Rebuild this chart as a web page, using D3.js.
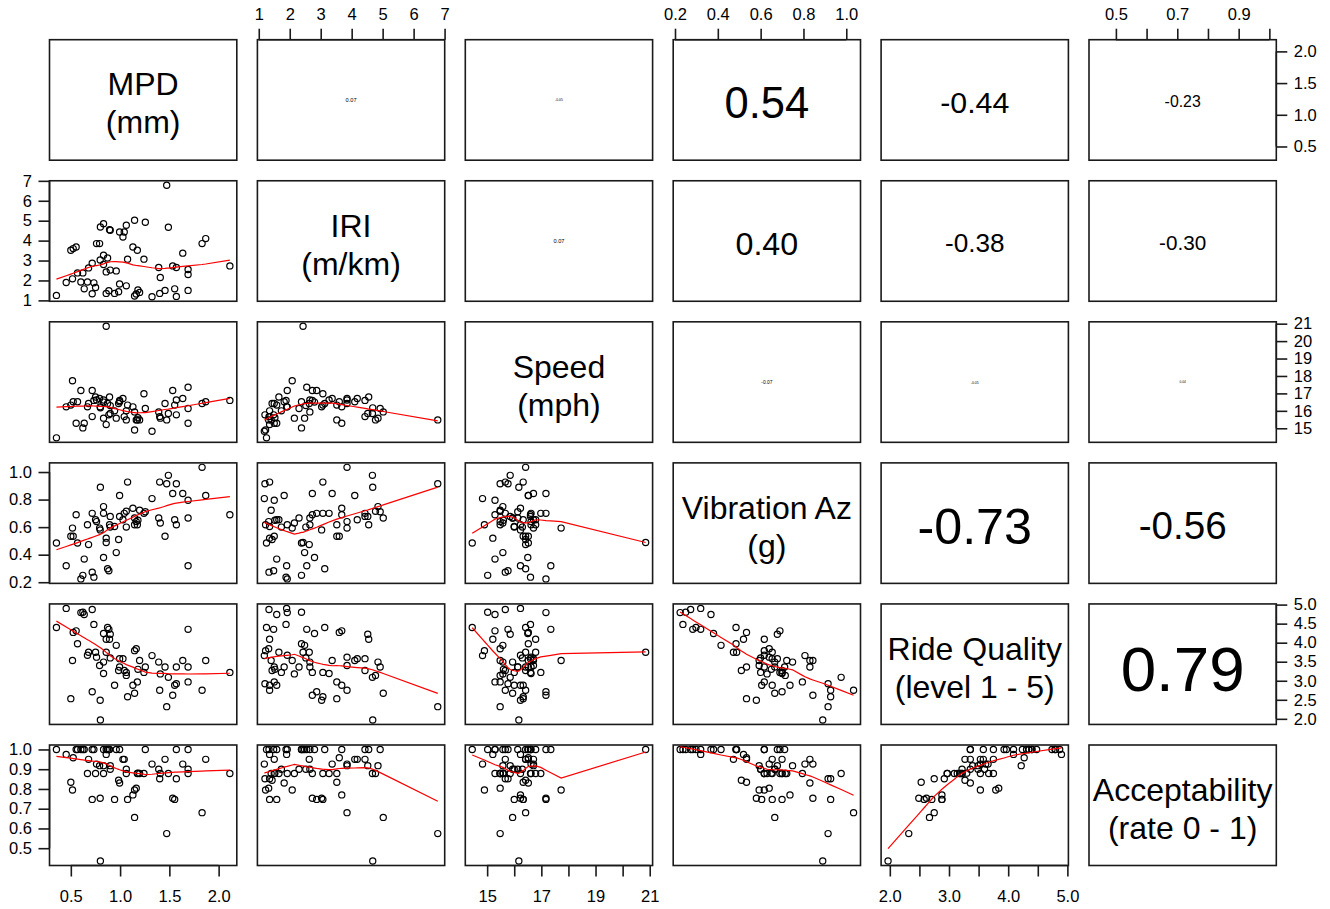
<!DOCTYPE html>
<html><head><meta charset="utf-8">
<script src="https://cdn.jsdelivr.net/npm/d3@7"></script>
<style>
body{margin:0;background:#fff}
svg{display:block}
text{font-family:"Liberation Sans",Arial,Helvetica,sans-serif;fill:#000}
</style>
</head><body>
<svg id="chart" width="1330" height="909"></svg>
<script>
// ---------------- data ----------------
const mpd   = [0.354,0.453,0.500,0.517,0.524,0.554,0.568,0.602,0.622,0.636,0.669,0.680,0.717,0.717,0.734,0.751,0.761,0.792,0.798,0.800,0.832,0.832,0.832,0.859,0.859,0.873,0.886,0.893,0.900,0.900,0.944,0.961,0.985,0.995,0.995,1.029,1.042,1.063,1.063,1.076,1.130,1.147,1.147,1.164,1.175,1.181,1.198,1.242,1.256,1.324,1.392,1.402,1.408,1.456,1.473,1.490,1.534,1.554,1.571,1.571,1.636,1.690,1.690,1.690,1.832,1.869,2.114];
const iri   = [1.25,1.90,3.52,2.08,3.60,3.68,2.38,1.92,2.38,1.58,1.92,2.63,2.87,1.33,1.88,1.65,3.85,3.85,3.03,4.68,4.85,3.27,2.80,2.43,1.35,3.13,1.48,4.55,4.52,2.52,1.35,2.48,1.43,1.82,4.43,4.18,4.43,4.77,1.73,3.07,3.68,5.02,1.22,1.32,3.52,1.52,1.40,3.07,4.92,1.18,2.65,1.35,2.15,1.50,6.78,4.67,2.73,1.58,2.65,1.20,3.37,2.55,2.30,1.50,3.85,4.10,2.73];
const speed = [14.45,16.23,16.33,17.73,16.52,15.29,16.52,17.17,15.02,15.29,16.23,16.42,17.17,15.67,16.60,16.79,16.62,16.71,16.23,16.17,15.58,16.62,16.50,20.85,15.21,16.42,15.77,16.79,15.85,16.30,16.00,15.58,16.42,16.52,16.60,16.71,15.67,15.48,16.00,16.33,16.23,15.94,14.90,15.48,15.48,15.60,15.48,16.98,16.13,14.83,15.94,15.67,15.58,16.42,15.48,15.85,17.17,16.33,16.62,15.77,16.71,17.35,16.13,15.29,16.42,16.52,16.60];
const vib   = [0.485,0.320,0.534,0.593,0.534,0.690,0.485,0.224,0.250,0.368,0.617,0.473,0.700,0.273,0.237,0.654,0.640,0.593,0.580,0.890,0.749,0.700,0.380,0.488,0.520,0.298,0.283,0.617,0.678,0.600,0.605,0.415,0.510,0.830,0.678,0.654,0.700,0.715,0.600,0.927,0.737,0.666,0.617,0.640,0.617,0.650,0.722,0.700,0.712,0.807,0.666,0.927,0.630,0.534,0.915,0.976,0.844,0.654,0.617,0.915,0.844,0.320,0.666,0.795,1.034,0.830,0.690];
const rq    = [4.40,4.90,2.53,3.53,4.27,4.31,3.97,4.79,4.80,4.74,3.67,3.75,2.71,4.87,4.48,3.75,3.62,3.40,2.49,1.97,3.49,3.19,4.24,3.75,4.09,4.40,4.35,4.09,4.22,3.60,2.88,3.93,3.27,3.36,3.58,3.58,3.27,3.14,3.22,2.58,2.88,2.67,3.79,3.84,2.97,3.30,3.53,3.22,3.36,3.66,3.49,2.75,3.18,3.36,2.32,3.09,2.62,2.88,3.36,2.92,3.53,4.35,3.36,2.97,2.75,3.53,3.22];
const acc   = [1.000,0.975,0.834,0.795,0.958,1.000,1.000,1.000,1.000,1.000,0.878,0.950,0.747,1.000,1.000,0.878,0.926,0.918,0.753,0.435,0.918,0.878,1.000,1.000,0.975,1.000,1.000,1.000,0.918,0.900,0.747,1.000,0.844,0.830,1.000,0.950,0.950,0.878,0.900,0.747,0.770,0.656,0.795,0.804,0.878,0.880,0.878,0.878,1.000,0.926,0.900,0.852,0.878,0.950,0.574,0.878,0.753,0.747,1.000,0.852,0.926,1.000,0.900,0.878,0.680,0.950,0.878];

const varNames = [["MPD","(mm)"],["IRI","(m/km)"],["Speed","(mph)"],["Vibration Az","(g)"],["Ride Quality","(level 1 - 5)"],["Acceptability","(rate 0 - 1)"]];

// correlation labels shown in the upper panels (row i, col j>i)
const corText = [
  [null,"0.07","-0.05","0.54","-0.44","-0.23"],
  [null,null,"0.07","0.40","-0.38","-0.30"],
  [null,null,null,"-0.07","-0.05","0.04"],
  [null,null,null,null,"-0.73","-0.56"],
  [null,null,null,null,null,"0.79"]
];

const mpdTicks = [0.5,1.0,1.5,2.0];
const mpdXLabels = ["0.5","1.0","1.5","2.0"];
const mpdYLabels = ["0.5","1.0","1.5","2.0"];
const iriTicks = [1,2,3,4,5,6,7];
const iriXLabels = ["1","2","3","4","5","6","7"];
const iriYLabels = ["1","2","3","4","5","6","7"];
const speedTicks = [15,16,17,18,19,20,21];
const speedXLabels = ["15","","17","","19","","21"];
const speedYLabels = ["15","16","17","18","19","20","21"];
const vibTicks = [0.2,0.4,0.6,0.8,1.0];
const vibXLabels = ["0.2","0.4","0.6","0.8","1.0"];
const vibYLabels = ["0.2","0.4","0.6","0.8","1.0"];
const rqTicks = [2.0,2.5,3.0,3.5,4.0,4.5,5.0];
const rqXLabels = ["2.0","","3.0","","4.0","","5.0"];
const rqYLabels = ["2.0","2.5","3.0","3.5","4.0","4.5","5.0"];
const accTicks = [0.5,0.6,0.7,0.8,0.9,1.0];
const accXLabels = ["0.5","","0.7","","0.9",""];
const accYLabels = ["0.5","0.6","0.7","0.8","0.9","1.0"];

// ---------------- assemble ----------------
const vars = [mpd, iri, speed, vib, rq, acc];
const ticks = [mpdTicks, iriTicks, speedTicks, vibTicks, rqTicks, accTicks];
const xLabels = [mpdXLabels, iriXLabels, speedXLabels, vibXLabels, rqXLabels, accXLabels];
const yLabels = [mpdYLabels, iriYLabels, speedYLabels, vibYLabels, rqYLabels, accYLabels];
const N = vars.length;

// layout
const left0 = 49.5, colStep = 207.9, pw = 187.3;
const top0 = 39.7, rowStep = 141.06, ph = 120.5;
const tickFs = 16.5, tickLen = 11;

function pad(v){ const e = d3.extent(v); const d = (e[1]-e[0])*0.04; return [e[0]-d, e[1]+d]; }
const xScales = vars.map((v,j)=> d3.scaleLinear().domain(pad(v)).range([left0+j*colStep, left0+j*colStep+pw]));
const yScales = vars.map((v,i)=> d3.scaleLinear().domain(pad(v)).range([top0+i*rowStep+ph, top0+i*rowStep]));

// R-style lowess (clowess port)
function lowess(xIn, yIn, f=2/3, iterations=3){
  const idx = d3.range(xIn.length).sort((a,b)=>xIn[a]-xIn[b]);
  const x = idx.map(i=>xIn[i]), y = idx.map(i=>yIn[i]);
  const n = x.length;
  const ys = new Array(n).fill(0), rw = new Array(n).fill(1), res = new Array(n).fill(0), w = new Array(n).fill(0);
  const range = x[n-1]-x[0];
  const delta = 0.01*range;
  const ns = Math.max(2, Math.min(n, Math.floor(f*n + 1e-7)));
  function lowest(xs, nleft, nright, userw){
    const h = Math.max(xs-x[nleft], x[nright]-xs);
    const h9 = 0.999*h, h1 = 0.001*h;
    let a = 0, j = nleft;
    while (j < n){
      w[j] = 0;
      const r = Math.abs(x[j]-xs);
      if (r <= h9){
        if (r <= h1) w[j] = 1; else w[j] = Math.pow(1-Math.pow(r/h,3),3);
        if (userw) w[j] *= rw[j];
        a += w[j];
      } else if (x[j] > xs) break;
      j++;
    }
    const nrt = j-1;
    if (a <= 0) return null;
    for (j=nleft;j<=nrt;j++) w[j] /= a;
    if (h > 0){
      a = 0;
      for (j=nleft;j<=nrt;j++) a += w[j]*x[j];
      let b = xs - a, c = 0;
      for (j=nleft;j<=nrt;j++) c += w[j]*(x[j]-a)*(x[j]-a);
      if (Math.sqrt(c) > 0.001*range){
        b /= c;
        for (j=nleft;j<=nrt;j++) w[j] *= (b*(x[j]-a)+1);
      }
    }
    let s = 0;
    for (j=nleft;j<=nrt;j++) s += w[j]*y[j];
    return s;
  }
  let it = 1;
  while (it <= iterations+1){
    let nleft = 0, nright = ns-1, last = -1, i = 0;
    for(;;){
      if (nright < n-1){
        const d1 = x[i]-x[nleft], d2 = x[nright+1]-x[i];
        if (d1 > d2){ nleft++; nright++; continue; }
      }
      const v = lowest(x[i], nleft, nright, it>1);
      ys[i] = (v === null) ? y[i] : v;
      if (last < i-1){
        const denom = x[i]-x[last];
        for (let j=last+1;j<i;j++){
          const alpha = (x[j]-x[last])/denom;
          ys[j] = alpha*ys[i] + (1-alpha)*ys[last];
        }
      }
      last = i;
      const cut = x[last]+delta;
      for (i=last+1;i<n;i++){
        if (x[i] > cut) break;
        if (x[i] === x[last]){ ys[i] = ys[last]; last = i; }
      }
      i = Math.max(last+1, i-1);
      if (last >= n-1) break;
    }
    let sc = 0;
    for (let i=0;i<n;i++){ res[i] = y[i]-ys[i]; sc += Math.abs(res[i]); }
    sc /= n;
    if (it > iterations) break;
    const sorted = res.map(Math.abs).sort((a,b)=>a-b);
    const m1 = Math.floor(n/2);
    let cmad;
    if (n % 2 === 0){ const m2 = n-m1-1; cmad = 3*(sorted[m1]+sorted[m2]); }
    else cmad = 6*sorted[m1];
    if (cmad < 1e-7*sc) break;
    const c9 = 0.999*cmad, c1 = 0.001*cmad;
    for (let i=0;i<n;i++){
      const r = Math.abs(res[i]);
      if (r <= c1) rw[i] = 1;
      else if (r <= c9) rw[i] = Math.pow(1-Math.pow(r/cmad,2),2);
      else rw[i] = 0;
    }
    it++;
  }
  return x.map((xv,k)=>[xv, ys[k]]);
}

const svg = d3.select("#chart");
const font = '"Liberation Sans",Arial,Helvetica,sans-serif';

for (let i=0;i<N;i++){
  for (let j=0;j<N;j++){
    const x0 = left0+j*colStep, y0 = top0+i*rowStep;
    const cx = x0+pw/2, cy = y0+ph/2;
    const g = svg.append("g");
    if (i === j){
      const t = g.append("text").attr("text-anchor","middle").attr("font-size",32);
      t.append("tspan").attr("x",cx).attr("y",cy-4.5).text(varNames[i][0]);
      t.append("tspan").attr("x",cx).attr("y",cy+33.5).text(varNames[i][1]);
    } else if (j > i){
      const txt = corText[i][j];
      const r = Math.abs(parseFloat(txt));
      const probe = g.append("text").attr("font-size",100).text(txt);
      const wEm = probe.node().getComputedTextLength()/100;
      probe.remove();
      const fs = 157*r/wEm;
      g.append("text").attr("x",cx).attr("y",cy+0.42*fs).attr("text-anchor","middle")
        .attr("font-size",fs).text(txt);
    } else {
      const xs = xScales[j], ys = yScales[i];
      const pts = vars[j].map((v,k)=>[v, vars[i][k]]);
      g.selectAll("circle").data(pts).join("circle")
        .attr("cx",d=>xs(d[0])).attr("cy",d=>ys(d[1])).attr("r",3.1)
        .attr("fill","none").attr("stroke","#000").attr("stroke-width",1.2);
      const lw = lowess(vars[j], vars[i]);
      g.append("path").attr("d", d3.line().x(d=>xs(d[0])).y(d=>ys(d[1]))(lw))
        .attr("fill","none").attr("stroke","#ff0000").attr("stroke-width",1.2);
    }
    g.append("rect").attr("x",x0).attr("y",y0).attr("width",pw).attr("height",ph)
      .attr("fill","none").attr("stroke","#1a1a1a").attr("stroke-width",1.6);
  }
}

function styleAxis(sel){
  sel.select(".domain").remove();
  sel.selectAll(".tick line").attr("stroke","#1a1a1a").attr("stroke-width",1.6);
  sel.selectAll(".tick text").attr("font-size",tickFs).attr("font-family",font).attr("fill","#000");
}
function axisLine(sel, x1,y1,x2,y2){
  svg.append("line").attr("x1",x1).attr("y1",y1).attr("x2",x2).attr("y2",y2)
    .attr("stroke","#1a1a1a").attr("stroke-width",1.6);
}

for (let j=0;j<N;j++){
  const xs = xScales[j];
  const tv = ticks[j];
  if (j % 2 === 1){
    const y = top0;
    const a = svg.append("g").attr("transform",`translate(0,${y})`)
      .call(d3.axisTop(xs).tickValues(tv).tickFormat((d,k)=>xLabels[j][k]).tickSizeOuter(0).tickSize(tickLen).tickPadding(8.3));
    styleAxis(a);
    axisLine(a, xs(tv[0]), y, xs(tv[tv.length-1]), y);
  } else {
    const y = top0+(N-1)*rowStep+ph;
    const a = svg.append("g").attr("transform",`translate(0,${y})`)
      .call(d3.axisBottom(xs).tickValues(tv).tickFormat((d,k)=>xLabels[j][k]).tickSizeOuter(0).tickSize(tickLen).tickPadding(13.5));
    styleAxis(a);
    axisLine(a, xs(tv[0]), y, xs(tv[tv.length-1]), y);
  }
}
for (let i=0;i<N;i++){
  const ys = yScales[i];
  const tv = ticks[i];
  if (i % 2 === 1){
    const x = left0;
    const a = svg.append("g").attr("transform",`translate(${x},0)`)
      .call(d3.axisLeft(ys).tickValues(tv).tickFormat((d,k)=>yLabels[i][k]).tickSizeOuter(0).tickSize(tickLen).tickPadding(6.5));
    styleAxis(a);
    axisLine(a, x, ys(tv[0]), x, ys(tv[tv.length-1]));
  } else {
    const x = left0+(N-1)*colStep+pw;
    const a = svg.append("g").attr("transform",`translate(${x},0)`)
      .call(d3.axisRight(ys).tickValues(tv).tickFormat((d,k)=>yLabels[i][k]).tickSizeOuter(0).tickSize(tickLen).tickPadding(6.5));
    styleAxis(a);
    axisLine(a, x, ys(tv[0]), x, ys(tv[tv.length-1]));
  }
}
</script>
</body></html>
